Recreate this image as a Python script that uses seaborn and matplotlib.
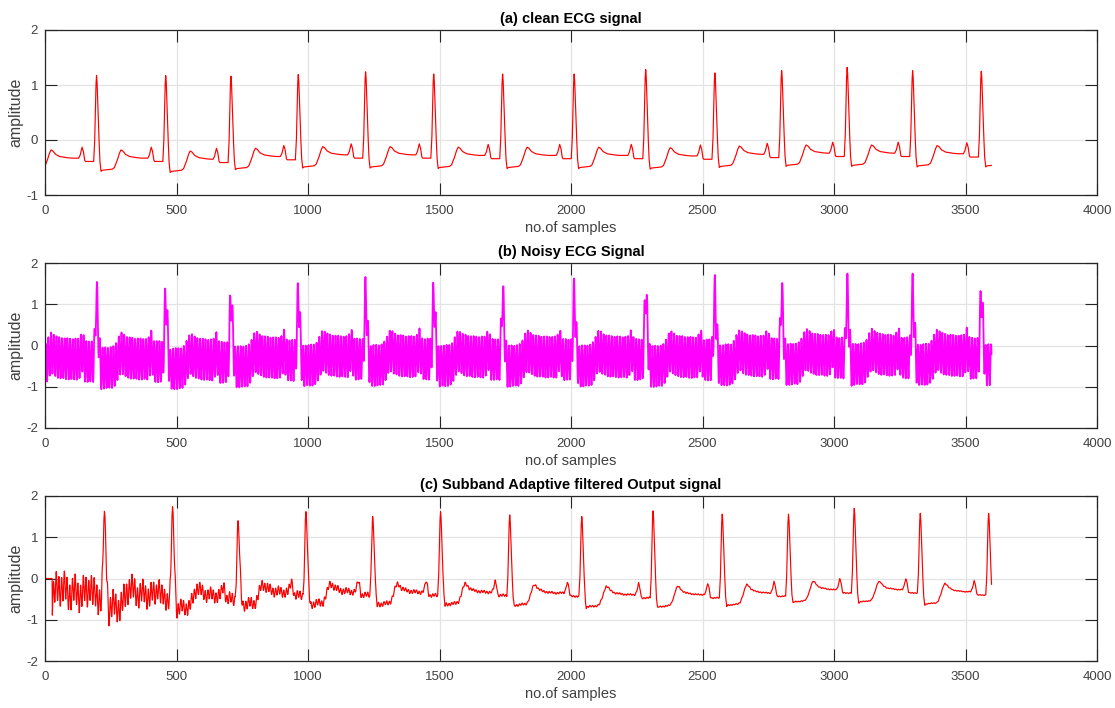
import numpy as np
import pandas as pd
import matplotlib
matplotlib.use("Agg")
import matplotlib.pyplot as plt
import seaborn as sns

N_SAMPLES = 3600

# Clean ECG: R-peak sample positions, R amplitudes and the T-P baseline after each beat
clean_r_peaks = [196, 459, 707, 963, 1219, 1478, 1740, 2012, 2284, 2547, 2801, 3050, 3299, 3560]
clean_r_heights = [1.17, 1.17, 1.16, 1.19, 1.24, 1.20, 1.20, 1.20, 1.28, 1.22, 1.26, 1.32, 1.26, 1.25]
clean_plateaus = [-0.33, -0.35, -0.30, -0.27, -0.27, -0.28, -0.28, -0.28, -0.29, -0.26, -0.24, -0.24, -0.25, -0.25]
clean_lead = (-70, -0.33)          # beat just before the record starts

# Filtered output (delayed by the filter bank)
filt_delay = 28
filt_r_peaks = [226, 485, 734, 992, 1246, 1504, 1767, 2041, 2312, 2575, 2827, 3077, 3328, 3588]
filt_r_heights = [1.63, 1.74, 1.40, 1.62, 1.50, 1.62, 1.54, 1.50, 1.64, 1.56, 1.56, 1.70, 1.58, 1.58]
filt_plateaus = [-0.40, -0.42, -0.33, -0.32, -0.33, -0.33, -0.35, -0.39, -0.39, -0.35, -0.27, -0.27, -0.32, -0.32]
filt_lead = (-42, -0.36)

# Interference added to the clean record
noise_amp = 0.5
noise_period = 10.3

# Residual interference left in the output while the adaptive filter converges
residual_at = [28, 200, 450, 520, 700, 1000, 1300, 1600, 2000, 2600, 3600]
residual_amp = [0.45, 0.42, 0.30, 0.20, 0.17, 0.11, 0.06, 0.04, 0.025, 0.015, 0.01]

# Beat morphology: (offset from R in samples, level relative to the T-P baseline)
pwave_shape = [(-68, 0.0), (-62, 0.06), (-55, 0.20), (-50, 0.12), (-45, -0.04), (-42, -0.06), (-11, -0.06)]
# QRS: (offset, fraction of the way from PR level / ST level up to the R apex)
qrs_up = [(-7, 0.25), (-4, 0.65), (-2, 0.9)]
qrs_down = [(2, 0.93), (5, 0.68), (9, 0.35), (13, 0.1), (17, 0.0)]
twave_shape = [(17, -0.24), (22, -0.22), (60, -0.20), (68, -0.17), (78, -0.05), (86, 0.08),
               (93, 0.15), (100, 0.13), (110, 0.07), (125, 0.03), (150, 0.01), (170, 0.0)]


def beat_train(peaks, heights, plateaus, lead, scale):
    xs, ys = [], []
    lead_r, lead_b = lead
    for off, lvl in twave_shape:
        xs.append(lead_r + off)
        ys.append(lead_b + scale * lvl)
    prev_b = lead_b
    for r, h, b in zip(peaks, heights, plateaus):
        for off, lvl in pwave_shape:
            xs.append(r + off)
            ys.append(prev_b + scale * lvl)
        pr = prev_b + scale * pwave_shape[-1][1]
        st = b + scale * twave_shape[0][1]
        for off, frac in qrs_up:
            xs.append(r + off)
            ys.append(pr + frac * (h - pr))
        xs.append(r)
        ys.append(h)
        for off, frac in qrs_down:
            xs.append(r + off)
            ys.append(st + frac * (h - st))
        for off, lvl in twave_shape[1:]:
            xs.append(r + off)
            ys.append(b + scale * lvl)
        prev_b = b
    order = np.argsort(xs, kind="stable")
    n = np.arange(N_SAMPLES)
    return n, np.interp(n, np.asarray(xs)[order], np.asarray(ys)[order])


n, clean = beat_train(clean_r_peaks, clean_r_heights, clean_plateaus, clean_lead, 1.0)
interference = noise_amp * np.sin(2 * np.pi * n / noise_period)
noisy = clean + interference

_, filt = beat_train(filt_r_peaks, filt_r_heights, filt_plateaus, filt_lead, 1.35)
envelope = np.interp(n, residual_at, residual_amp)
# keep the residual off the R apexes so each peak sits at its stated height
for r in filt_r_peaks:
    envelope *= 1 - np.exp(-0.5 * ((n - r) / 4.0) ** 2)
residual = envelope * (0.75 * np.sin(2 * np.pi * n / noise_period + 0.7)
                       + 0.35 * np.sin(2 * np.pi * n / 37.0 + 1.3))
filt = filt + residual
filt[:filt_delay] = 0.0

df = pd.DataFrame({"sample": n, "clean": clean, "noisy": noisy, "filtered": filt})

sns.set_theme(style="white")
plt.rcParams.update({
    "font.family": ["Liberation Sans", "DejaVu Sans"],
    "axes.unicode_minus": False,
    "xtick.bottom": True, "xtick.top": True,
    "ytick.left": True, "ytick.right": True,
    "xtick.direction": "in", "ytick.direction": "in",
})

fig = plt.figure(figsize=(11.15, 7.08), dpi=100)
W, H = 1115, 708
panels = [
    ("clean", "#ff0000", "(a) clean ECG signal", (30, 195), (-1, 2), [-1, 0, 1, 2]),
    ("noisy", "#ff00ff", "(b) Noisy ECG Signal", (263, 428), (-2, 2), [-2, -1, 0, 1, 2]),
    ("filtered", "#ff0000", "(c) Subband Adaptive filtered Output signal", (496, 661), (-2, 2), [-2, -1, 0, 1, 2]),
]

for col, color, title, (top, bot), ylim, yticks in panels:
    ax = fig.add_axes([45 / W, 1 - bot / H, (1097 - 45) / W, (bot - top) / H])
    sns.lineplot(data=df, x="sample", y=col, ax=ax, color=color,
                 linewidth=1.3 if col == "noisy" else 0.85,
                 estimator=None, sort=False)
    ax.set_xlim(0, 4000)
    ax.set_ylim(*ylim)
    ax.set_xticks(np.arange(0, 4001, 500))
    ax.set_yticks(yticks)
    ax.grid(True, color="#e3e3e3", linewidth=0.9)
    ax.set_axisbelow(True)
    for s in ax.spines.values():
        s.set_color("#262626")
        s.set_linewidth(0.9)
    ax.tick_params(axis="both", which="major", direction="in", length=8.5, width=0.8,
                   color="#262626", labelsize=9.5, labelcolor="#404040",
                   top=True, right=True, bottom=True, left=True)
    ax.tick_params(axis="x", pad=7)
    ax.tick_params(axis="y", pad=5)
    ax.set_xlabel("no.of samples", fontsize=10.5, color="#404040", labelpad=3)
    ax.set_ylabel("amplitude", fontsize=11.5, color="#404040", labelpad=2)
    ax.set_title(title, fontsize=10.5, fontweight="bold", color="black", pad=5)

fig.savefig("out.png", dpi=100)
